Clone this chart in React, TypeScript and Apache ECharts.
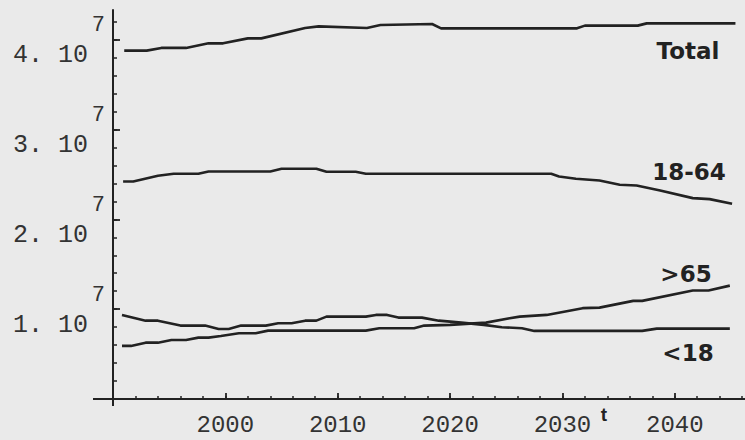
import React, { useEffect, useRef } from "react";
import * as echarts from "echarts";

// ---- data (populations in millions) ----
const totalYears = [1991, 1993, 1994.3, 1996.5, 1998.5, 1999.8, 2002, 2003.2, 2007.1, 2008.3, 2012.6, 2013.8, 2018.4, 2019.2, 2031.3, 2032, 2036.7, 2037.5, 2045.4];
const totalValues = [38.78, 38.78, 39.08, 39.08, 39.59, 39.59, 40.14, 40.14, 41.3, 41.48, 41.3, 41.63, 41.74, 41.26, 41.26, 41.56, 41.56, 41.81, 41.81];

const adultYears = [1990.9, 1991.8, 1994, 1995.4, 1997.6, 1998.5, 2004, 2005, 2008.1, 2009, 2011.6, 2012.5, 2029, 2029.7, 2031.2, 2033.3, 2035.1, 2036.6, 2038.7, 2041.6, 2043.1, 2045.1];
const adultValues = [24.21, 24.21, 24.85, 25.07, 25.07, 25.33, 25.33, 25.63, 25.63, 25.29, 25.29, 25.07, 25.07, 24.77, 24.51, 24.32, 23.84, 23.77, 23.21, 22.36, 22.25, 21.73];

const youngYears = [1990.8, 1992.9, 1994, 1996, 1998.2, 1999.4, 2000.3, 2001.4, 2003.6, 2004.7, 2005.9, 2007.1, 2008.1, 2009, 2012.5, 2013.4, 2014.4, 2015.4, 2017.5, 2019, 2021, 2023, 2024.6, 2026.4, 2027.5, 2037.1, 2038.4, 2044.9];
const youngValues = [9.36, 8.72, 8.72, 8.17, 8.17, 7.8, 7.8, 8.17, 8.17, 8.43, 8.43, 8.72, 8.72, 9.17, 9.17, 9.36, 9.36, 9.06, 9.06, 8.72, 8.5, 8.25, 7.99, 7.88, 7.58, 7.58, 7.83, 7.83];

const oldYears = [1990.8, 1991.6, 1992.9, 1994, 1995.2, 1996.5, 1997.6, 1998.5, 1999.6, 2001.2, 2002.7, 2003.8, 2012.5, 2013.7, 2016.8, 2017.7, 2020, 2023.2, 2025.3, 2026.2, 2028.6, 2031.8, 2033.3, 2036.3, 2037.1, 2041.6, 2043, 2044.9];
const oldValues = [5.91, 5.91, 6.27, 6.27, 6.57, 6.57, 6.83, 6.83, 7.02, 7.32, 7.32, 7.61, 7.61, 7.88, 7.88, 8.17, 8.25, 8.5, 8.99, 9.17, 9.36, 10.11, 10.17, 10.92, 10.92, 12.07, 12.07, 12.62];

const seriesNames = ["Total", "18-64", ">65", "<18"];

const xLabelValues = [2000, 2010, 2020, 2030, 2040];
const xMinorTickValues = [1992, 1994, 1996, 1998, 2000, 2002, 2004, 2006, 2008, 2010, 2012, 2014, 2016, 2018, 2020, 2022, 2024, 2026, 2028, 2030, 2032, 2034, 2036, 2038, 2040, 2042, 2044, 2046];
const yLabelValues = [10, 20, 30, 40];
const yTickLabels = ["1. 10", "2. 10", "3. 10", "4. 10"];
const yExponent = "7";
const yMinorTickValues = [2, 4, 6, 8, 10, 12, 14, 16, 18, 20, 22, 24, 26, 28, 30, 32, 34, 36, 38, 40, 42];
const xAxisName = "t";

const toPairs = (xs: number[], ys: number[]) => xs.map((x, i) => [x, ys[i]]);

export default function App() {
  const ref = useRef<HTMLDivElement>(null);
  useEffect(() => {
    if (!ref.current) return;
    const chart = echarts.init(ref.current, undefined, { renderer: "svg" });
    const ink = "#222";
    const mono = "Liberation Mono, DejaVu Sans Mono, monospace";
    const lineStyle = { color: "#222", width: 2.6 };
    const labelFont = "bold 23px 'DejaVu Sans'";
    const mkSeries = (name: string, data: number[][]) => ({
      name,
      type: "line",
      data,
      showSymbol: false,
      symbol: "none",
      lineStyle,
      xAxisIndex: 0,
      yAxisIndex: 0,
    });
    const option: any = {
      animation: false,
      backgroundColor: "#eaeaea",
      grid: { left: 113, right: 0, top: 10, bottom: 41 },
      xAxis: [
        {
          type: "value",
          min: 1990,
          max: 2046.25,
          position: "bottom",
          axisLine: { show: true, onZero: false, lineStyle: { color: ink, width: 2 } },
          axisTick: { show: true, inside: true, length: 3, customValues: xMinorTickValues, lineStyle: { color: ink, width: 1.5 } },
          axisLabel: {
            show: true,
            customValues: xLabelValues,
            margin: 14,
            fontFamily: mono,
            fontSize: 24,
            color: "#333",
            formatter: (v: number) => String(v),
          },
          splitLine: { show: false },
        },
        {
          type: "value",
          min: 1990,
          max: 2046.25,
          position: "bottom",
          axisLine: { show: false, onZero: false },
          axisTick: { show: true, inside: true, length: 6, customValues: xLabelValues, lineStyle: { color: ink, width: 1.8 } },
          axisLabel: { show: false },
          splitLine: { show: false },
        },
      ],
      yAxis: [
        {
          type: "value",
          min: 0,
          max: 43.3,
          position: "left",
          axisLine: { show: true, onZero: false, lineStyle: { color: ink, width: 2 } },
          axisTick: { show: true, inside: true, length: 4, customValues: yMinorTickValues, lineStyle: { color: ink, width: 1.5 } },
          axisLabel: {
            show: true,
            customValues: yLabelValues,
            margin: 8,
            align: "right",
            verticalAlign: "middle",
            formatter: (v: number) => {
              const i = yLabelValues.indexOf(Math.round(v));
              return i < 0 ? "" : `{s|${yExponent}}\n{b|${yTickLabels[i]}}`;
            },
            rich: {
              s: { fontFamily: mono, fontSize: 22, lineHeight: 32, align: "right", color: "#333", padding: [6, 0, 0, 0] },
              b: { fontFamily: mono, fontSize: 25, lineHeight: 34, align: "right", color: "#333", padding: [0, 17, 0, 0] },
            },
          },
          splitLine: { show: false },
        },
        {
          type: "value",
          min: 0,
          max: 43.3,
          position: "left",
          axisLine: { show: false, onZero: false },
          axisTick: { show: true, inside: true, length: 7, customValues: yLabelValues, lineStyle: { color: ink, width: 1.8 } },
          axisLabel: { show: false },
          splitLine: { show: false },
        },
      ],
      series: [
        mkSeries(seriesNames[0], toPairs(totalYears, totalValues)),
        mkSeries(seriesNames[1], toPairs(adultYears, adultValues)),
        mkSeries(seriesNames[2], toPairs(oldYears, oldValues)),
        mkSeries(seriesNames[3], toPairs(youngYears, youngValues)),
      ],
      graphic: [
        { type: "line", shape: { x1: 93, y1: 399, x2: 113, y2: 399 }, style: { stroke: ink, lineWidth: 2 }, silent: true },
        { type: "line", shape: { x1: 113, y1: 398, x2: 113, y2: 406 }, style: { stroke: ink, lineWidth: 2 }, silent: true },
        { type: "text", x: 688, y: 51, style: { text: seriesNames[0], font: labelFont, fill: ink, align: "center", verticalAlign: "middle" } },
        { type: "text", x: 689, y: 172, style: { text: seriesNames[1], font: labelFont, fill: ink, align: "center", verticalAlign: "middle" } },
        { type: "text", x: 686, y: 274, style: { text: seriesNames[2], font: labelFont, fill: ink, align: "center", verticalAlign: "middle" } },
        { type: "text", x: 688, y: 353, style: { text: seriesNames[3], font: labelFont, fill: ink, align: "center", verticalAlign: "middle" } },
        { type: "text", x: 604, y: 414, style: { text: xAxisName, font: "bold 19px 'Liberation Sans'", fill: ink, align: "center", verticalAlign: "middle" } },
      ],
    };
    chart.setOption(option);
    return () => chart.dispose();
  }, []);
  return <div ref={ref} style={{ position: "absolute", left: 0, top: 0, width: 745, height: 440 }} />;
}
